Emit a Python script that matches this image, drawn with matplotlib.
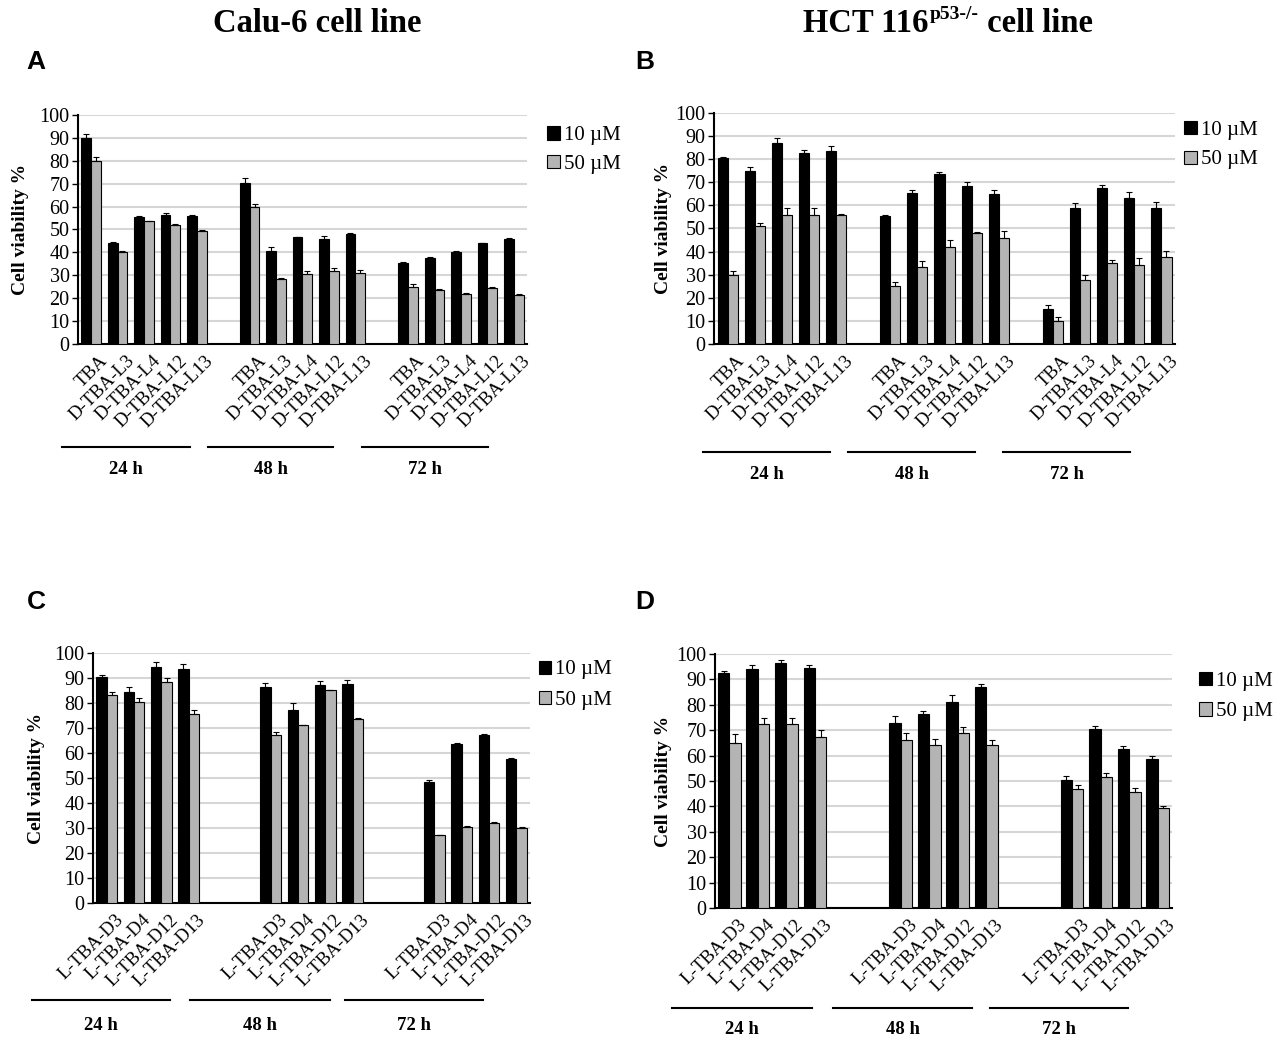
import matplotlib
matplotlib.use("Agg")
import matplotlib.pyplot as plt
import numpy as np

plt.rcParams['font.family'] = ['Liberation Serif', 'DejaVu Serif']

# ---- data ----
times = ['24 h', '48 h', '72 h']
cats_top = ['TBA', 'D-TBA-L3', 'D-TBA-L4', 'D-TBA-L12', 'D-TBA-L13']
cats_bot = ['L-TBA-D3', 'L-TBA-D4', 'L-TBA-D12', 'L-TBA-D13']

# panel A : Calu-6, D-TBA
a10 = [90, 44, 55.5, 56.5, 56,   70.5, 40.5, 46.5, 46, 48,   35.5, 37.5, 40.3, 44, 46]
a50 = [80, 40, 53.5, 52, 49.5,   60, 28.5, 30.5, 32, 31,     25, 23.5, 22, 24.5, 21.5]
a10e = [1.5, 0.5, 0.3, 0.5, 0.3, 1.8, 2, 0.3, 1.2, 0.3, 0.3, 0.3, 0.3, 0.3, 0.3]
a50e = [1.5, 0.5, 0.3, 0.3, 0.3, 1.2, 0.3, 1.2, 1.2, 1.5, 1.3, 0.3, 0.3, 0.3, 0.3]

# panel B : HCT 116 p53-/-, D-TBA
b10 = [80.5, 75, 87, 82.5, 83.5,   55.5, 65.5, 73.5, 68.5, 65,   15, 59, 67.5, 63, 59]
b50 = [30, 51, 56, 56, 56,         25, 33.5, 42, 48, 46,         10, 27.5, 35, 34, 37.5]
b10e = [0.5, 1.5, 2, 1.5, 2, 0.5, 1, 1, 1.5, 1.8, 1.8, 2, 1.3, 3, 2.5]
b50e = [1.5, 1.5, 2.8, 3, 0.3, 1.8, 2.3, 3, 0.5, 2.8, 1.8, 2.3, 1.5, 3.2, 2.8]

# panel C : Calu-6, L-TBA
c10 = [90.5, 84.5, 94.5, 93.5,   86.5, 77, 87, 87.5,   48.5, 63.5, 67, 57.5]
c50 = [83, 80.5, 88.5, 75.5,     67, 71, 85, 73.5,     27, 30.5, 32, 30]
c10e = [0.8, 1.8, 2, 2.2, 1.5, 3, 1.8, 1.8, 0.5, 0.5, 0.5, 0.3]
c50e = [1.3, 1.3, 1.5, 1.8, 1.5, 0.3, 0.3, 0.3, 0.3, 0.3, 0.3, 0.3]

# panel D : HCT 116 p53-/-, L-TBA
d10 = [92.5, 94, 96.5, 94.5,   73, 76.5, 81, 87,   50.5, 70.5, 62.5, 58.5]
d50 = [65, 72.5, 72.5, 67.5,   66, 64, 69, 64,     47, 51.5, 45.5, 39.5]
d10e = [0.8, 1.8, 1.2, 1.3, 2.5, 1.2, 3, 1.2, 1.5, 1.2, 1.3, 1.3]
d50e = [3.5, 2.5, 2.5, 2.5, 2.8, 2.5, 2.2, 2, 1.5, 1.8, 1.8, 0.5]

fig = plt.figure(figsize=(12.8, 10.5), dpi=100)


def panel(rect, cats, gap, v10, v50, e10, e50, width, lines, line_y, lab_y, ylab_x, leg_xy,
          leg_sp=0.55):
    ax = fig.add_axes(rect)
    n = len(cats)
    pos = []
    labels = []
    for g in range(3):
        for i in range(n):
            pos.append(g * (n + gap) + i)
        labels += cats
    pos = np.array(pos)
    nslots = 3 * n + 2 * gap
    ax.bar(pos - width / 2, v10, width, color='black', edgecolor='black', lw=0.8,
           yerr=[np.zeros(len(e10)), e10], capsize=2.5,
           error_kw=dict(elinewidth=0.8, capthick=0.8, ecolor='black'),
           label='10 µM', zorder=3)
    ax.bar(pos + width / 2, v50, width, color='#b4b4b4', edgecolor='black', lw=0.8,
           yerr=[np.zeros(len(e50)), e50], capsize=2.5,
           error_kw=dict(elinewidth=0.8, capthick=0.8, ecolor='black'),
           label='50 µM', zorder=3)
    ax.set_xlim(-0.5, nslots - 0.5)
    ax.set_ylim(0, 100)
    ax.set_yticks(range(0, 101, 10))
    ax.tick_params(axis='y', labelsize=14.5, length=4, width=1, direction='out', pad=2)
    ax.set_xticks(pos + 0.3)
    ax.set_xticklabels(labels, rotation=45, ha='right', rotation_mode='anchor', fontsize=13.5)
    ax.tick_params(axis='x', length=0, pad=6)
    ax.yaxis.grid(True, color='#d6d6d6', lw=1.5, zorder=0)
    ax.set_axisbelow(True)
    for s in ['top', 'right']:
        ax.spines[s].set_visible(False)
    ax.spines['left'].set_linewidth(1.5)
    ax.spines['bottom'].set_linewidth(1.5)
    ax.set_ylabel('Cell viability %', fontsize=14, fontweight='bold')
    ax.yaxis.set_label_coords(ylab_x, 0.5)
    tr = ax.get_xaxis_transform()
    for (x0, x1), t in zip(lines, times):
        ax.plot([x0, x1], [line_y, line_y], color='black', lw=1.5, transform=tr, clip_on=False)
        ax.text((x0 + x1) / 2, lab_y, t, transform=tr, ha='center', va='center',
                fontsize=13.5, fontweight='bold')
    ax.legend(loc='upper left', bbox_to_anchor=leg_xy, frameon=False, fontsize=15,
              handlelength=0.6, handleheight=0.6, handletextpad=0.2, labelspacing=leg_sp,
              borderpad=0, borderaxespad=0)
    return ax


panel([0.0609, 0.6724, 0.3508, 0.2181], cats_top, 1, a10, a50, a10e, a50e, 0.37,
      [(-1.1, 3.74), (4.42, 9.16), (10.26, 15.03)], -0.45, -0.55, -0.108, (1.045, 0.95),
      leg_sp=0.45)
panel([0.5578, 0.6724, 0.3602, 0.22], cats_top, 1, b10, b50, b10e, b50e, 0.37,
      [(-0.9, 3.78), (4.44, 9.13), (10.16, 14.85)], -0.468, -0.563, -0.092, (1.02, 0.965),
      leg_sp=0.5)
panel([0.0727, 0.14, 0.3414, 0.2381], cats_bot, 2, c10, c50, c10e, c50e, 0.38,
      [(-2.73, 2.32), (3.05, 8.18), (8.73, 13.79)], -0.388, -0.488, -0.11, (1.02, 0.97))
panel([0.5586, 0.1352, 0.357, 0.2419], cats_bot, 2, d10, d50, d10e, d50e, 0.4,
      [(-2.0, 2.9), (3.63, 8.5), (9.13, 13.96)], -0.394, -0.48, -0.095, (1.06, 0.93))

ty = 1 - 24 / 1050
fig.text(317 / 1280, ty, 'Calu-6 cell line', ha='center', va='center',
         fontsize=23.5, fontweight='bold')

# HCT 116 title built from pieces so the superscript keeps plain hyphens
fig.canvas.draw()
r = fig.canvas.get_renderer()
t1 = fig.text(0, ty, 'HCT 116', ha='left', va='center', fontsize=23.5, fontweight='bold')
t2 = fig.text(0, ty + 0.009, 'p53-/-', ha='left', va='center', fontsize=14, fontweight='bold')
t3 = fig.text(0, ty, ' cell line', ha='left', va='center', fontsize=23.5, fontweight='bold')
w1 = t1.get_window_extent(r).width / 1280
w2 = t2.get_window_extent(r).width / 1280
w3 = t3.get_window_extent(r).width / 1280
x0 = 947 / 1280 - (w1 + w2 + w3) / 2
t1.set_x(x0)
t2.set_x(x0 + w1 + 0.001)
t3.set_x(x0 + w1 + w2 + 0.001)

for lab, x, y in [('A', 36, 62), ('B', 645, 62), ('C', 36, 602), ('D', 645, 602)]:
    fig.text(x / 1280, 1 - y / 1050, lab, ha='center', va='center', fontsize=19,
             fontweight='bold', family='Liberation Sans')

fig.savefig('out.png', dpi=100)
